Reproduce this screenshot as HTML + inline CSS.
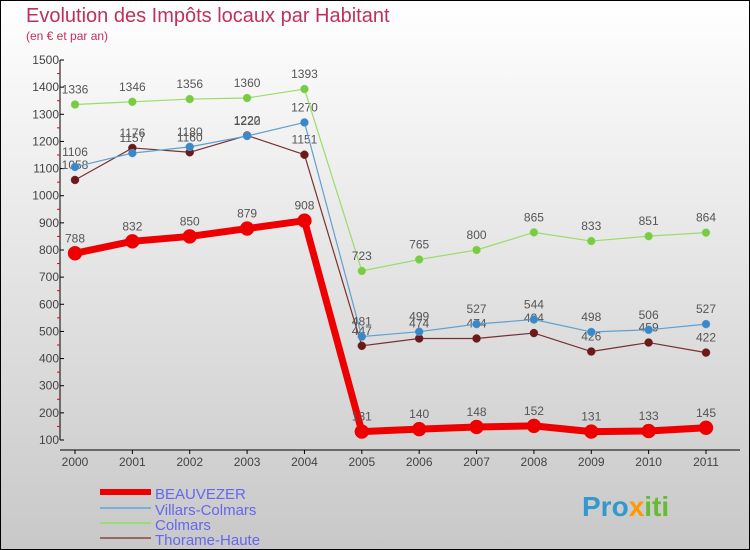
<!DOCTYPE html>
<html><head><meta charset="utf-8"><style>
body{margin:0;width:750px;height:550px;overflow:hidden;font-family:"Liberation Sans",sans-serif}
svg{display:block}
</style></head><body>
<svg id="chart" width="750" height="550" xmlns="http://www.w3.org/2000/svg">
<defs><linearGradient id="bg" x1="0" y1="0" x2="0" y2="1"><stop offset="0" stop-color="#ffffff"/><stop offset="1" stop-color="#c8c8c8"/></linearGradient></defs>
<rect x="0.5" y="0.5" width="749" height="549" fill="url(#bg)" stroke="#000"/>
<text x="26" y="22" font-size="20" fill="#c0305a">Evolution des Impôts locaux par Habitant</text>
<text x="26" y="40" font-size="12" fill="#c0305a">(en € et par an)</text>
<g id="axes"></g><g id="series"></g>
<g>
<line x1="100" y1="492" x2="151" y2="492" stroke="#e00" stroke-width="6"/>
<text x="155" y="499" font-size="15" fill="#6666ee">BEAUVEZER</text>
<line x1="100" y1="508" x2="151" y2="508" stroke="#7ab0d8" stroke-width="2"/>
<text x="155" y="515" font-size="15" fill="#6666ee">Villars-Colmars</text>
<line x1="100" y1="523" x2="151" y2="523" stroke="#99dd77" stroke-width="2"/>
<text x="155" y="530" font-size="15" fill="#6666ee">Colmars</text>
<line x1="100" y1="538" x2="151" y2="538" stroke="#996666" stroke-width="2"/>
<text x="155" y="545" font-size="15" fill="#6666ee">Thorame-Haute</text>
</g>
<text x="582" y="516" font-size="28" font-weight="bold" fill="#3399cc">Pro<tspan fill="#ff9900">x</tspan><tspan fill="#66bb33">iti</tspan></text>
</svg>
<script>
const years=[2000,2001,2002,2003,2004,2005,2006,2007,2008,2009,2010,2011];
const yTicks=[100,200,300,400,500,600,700,800,900,1000,1100,1200,1300,1400,1500];
const beauvezer=[788,832,850,879,908,131,140,148,152,131,133,145];
const villars=[1106,1157,1180,1220,1270,481,499,527,544,498,506,527];
const colmars=[1336,1346,1356,1360,1393,723,765,800,865,833,851,864];
const thorame=[1058,1176,1160,1222,1151,447,474,474,494,426,459,422];
const NS="http://www.w3.org/2000/svg";
const X=i=>75+i*(631/11);
const Y=v=>440-(v-100)*(380/1400);
function mk(tag,attrs,parent){const e=document.createElementNS(NS,tag);for(const k in attrs)e.setAttribute(k,attrs[k]);parent.appendChild(e);return e;}
const ax=document.getElementById('axes');
let a=mk('line',{x1:60,y1:60,x2:60,y2:440,stroke:'#000'},ax);


a=mk('line',{x1:60,y1:450,x2:740,y2:450,stroke:'#000'},ax);


yTicks.forEach((t,i)=>{
  mk('line',{x1:60,y1:Y(t),x2:64,y2:Y(t),stroke:'#000'},ax);
  if(i<yTicks.length-1)mk('line',{x1:57,y1:Y(t+50),x2:60,y2:Y(t+50),stroke:'#e00'},ax);
  const tx=mk('text',{x:59,y:Y(t)+4,'font-size':12,'text-anchor':'end',fill:'#444'},ax);
  tx.textContent=t;
  
  
});
years.forEach((yr,i)=>{
  mk('line',{x1:X(i),y1:450,x2:X(i),y2:454,stroke:'#000'},ax);
  const tx=mk('text',{x:X(i),y:466,'font-size':12,'text-anchor':'middle',fill:'#444'},ax);
  tx.textContent=yr;
  
  
});
const sg=document.getElementById('series');
function series(vals,name,color,w,r,dot){
  const g=mk('g',{},sg);
  
  
  const p=mk('polyline',{points:vals.map((v,i)=>X(i)+','+Y(v)).join(' '),fill:'none',stroke:color,'stroke-width':w,'stroke-linejoin':'round'},g);
  
  
  vals.forEach((v,i)=>{
    const c=mk('circle',{cx:X(i),cy:Y(v),r:r,fill:dot,stroke:color,'stroke-width':0.5},g);
    
    
    const t=mk('text',{x:X(i),y:Y(v)-11,'font-size':12,'text-anchor':'middle',fill:'#555'},g);
    t.textContent=v;
    
    
  });
}
series(thorame,'thorame-haute','#7a3030',1.2,4,'#6a1a1a');
series(villars,'villars-colmars','#5fa0d0',1.2,4,'#3a88c8');
series(colmars,'colmars','#99dd66',1.2,4,'#77cc44');
series(beauvezer,'beauvezer','#ee0000',7,7,'#ee0000');
</script>
</body></html>
